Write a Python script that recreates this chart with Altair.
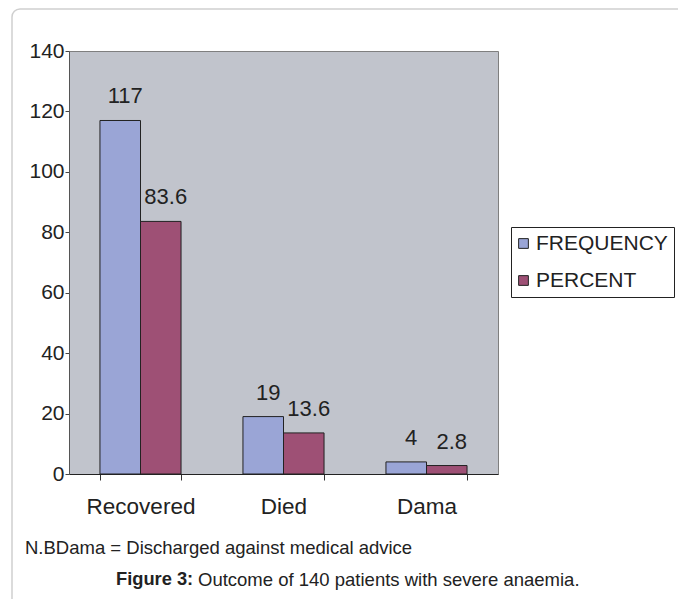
import altair as alt
import pandas as pd

categories = ["Recovered", "Died", "Dama"]
frequency = [117, 19, 4]
percent = [83.6, 13.6, 2.8]
freq_labels = ["117", "19", "4"]
pct_labels = ["83.6", "13.6", "2.8"]
series_names = ["FREQUENCY", "\u00a0PERCENT"]

rows = []
for c, f, p, fl, pl in zip(categories, frequency, percent, freq_labels, pct_labels):
    rows.append({"cat": c, "series": series_names[0], "value": f, "label": fl})
    rows.append({"cat": c, "series": series_names[1], "value": p, "label": pl})
df = pd.DataFrame(rows)

FONT = "Liberation Sans"

x = alt.X("cat:N", sort=categories, title=None,
          scale=alt.Scale(paddingInner=0.433, paddingOuter=0.2165),
          axis=alt.Axis(labelAngle=0, labelFontSize=22.5, labelColor="#222",
                        labelFont=FONT, tickBand="extent", tickSize=6,
                        tickColor="#333", domainColor="#222", labelPadding=15,
                        grid=False))
xo = alt.XOffset("series:N", sort=series_names,
                 scale=alt.Scale(paddingInner=0, paddingOuter=0))

base = alt.Chart(df)

bars = base.mark_bar(stroke="#222", strokeWidth=1).encode(
    x=x, xOffset=xo,
    y=alt.Y("value:Q", title=None,
            scale=alt.Scale(domain=[0, 140], nice=False),
            axis=alt.Axis(values=[0, 20, 40, 60, 80, 100, 120, 140],
                          labelFontSize=21, labelColor="#222", labelFont=FONT,
                          tickSize=4, tickColor="#444", domainColor="#555",
                          labelPadding=1, grid=False)),
    color=alt.Color("series:N", sort=series_names,
                    scale=alt.Scale(domain=series_names, range=["#9aa5d6", "#9e5075"]),
                    legend=alt.Legend(title=None, orient="none", legendX=442, legendY=176,
                                      strokeColor="#222", fillColor="white",
                                      padding=6, symbolType="square", symbolSize=95,
                                      symbolOffset=-4,
                                      symbolStrokeColor="#222", symbolStrokeWidth=1,
                                      labelFontSize=21, labelFont=FONT, labelColor="#222",
                                      rowPadding=15, labelOffset=2, labelLimit=300)),
)

labels = base.mark_text(baseline="alphabetic", dy=-17, dx=5, fontSize=22,
                        font=FONT, color="#222").encode(
    x=x, xOffset=xo, y="value:Q", text="label:N")

one = pd.DataFrame({"t": ["x"]})

border = alt.Chart(one).mark_rect(fill=None, stroke="#cfcfcf", strokeWidth=1.5,
                                  cornerRadius=8).encode(
    x=alt.value(-57), x2=alt.value(640), y=alt.value(-42), y2=alt.value(580))

note = alt.Chart(pd.DataFrame({"t": ["N.BDama = Discharged against medical advice"]})).mark_text(
    align="left", baseline="middle", fontSize=18.5, font=FONT, color="#222").encode(
    text="t:N", x=alt.value(25 - 69), y=alt.value(548 - 51))

fig = alt.Chart(pd.DataFrame({"t": ["Figure 3:"]})).mark_text(
    align="left", baseline="middle", fontSize=18.3, font=FONT, fontWeight="bold",
    color="#222").encode(text="t:N", x=alt.value(116 - 69), y=alt.value(580 - 51))

cap = alt.Chart(pd.DataFrame({"t": ["Outcome of 140 patients with severe anaemia."]})).mark_text(
    align="left", baseline="middle", fontSize=18.5, font=FONT, color="#222").encode(
    text="t:N", x=alt.value(198 - 69), y=alt.value(580 - 51))

chart = alt.layer(border, bars, labels, note, fig, cap).properties(
    width=429, height=423,
    autosize=alt.AutoSizeParams(type="none"),
    padding={"left": 69, "top": 51, "right": 180, "bottom": 125},
    background="white",
).configure_view(fill="#c1c4cc", stroke="#7f7f7f", strokeWidth=1)

chart.save("out.html", embed_options={"renderer": "svg", "actions": False})
